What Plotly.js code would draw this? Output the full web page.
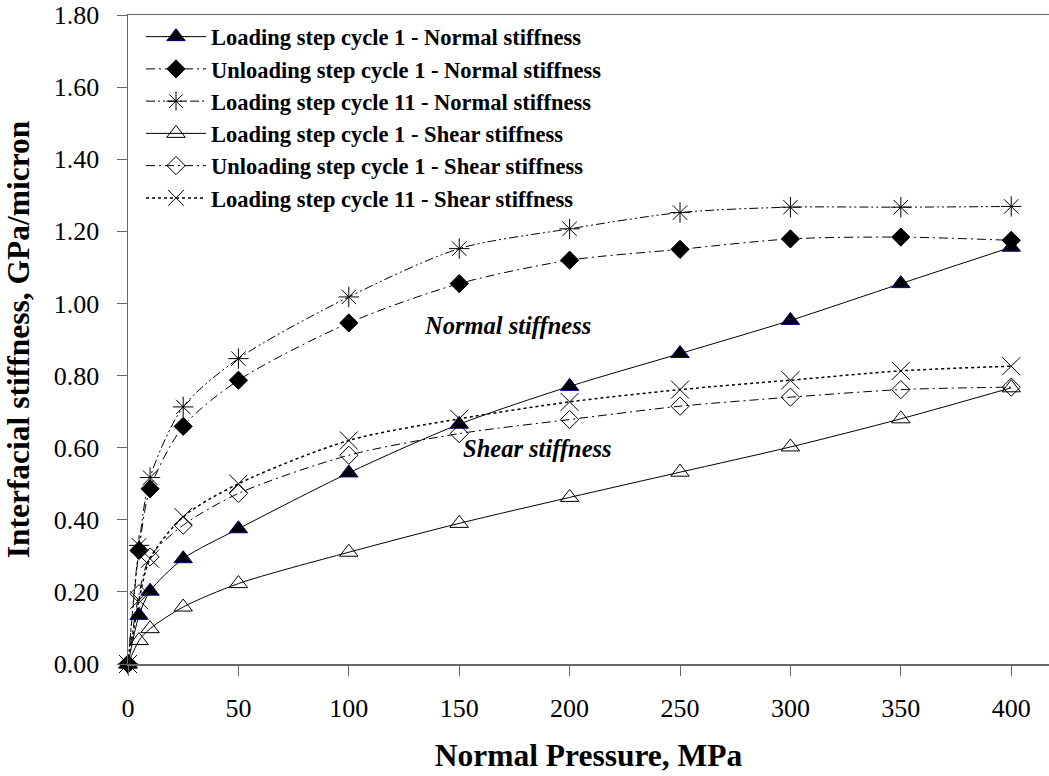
<!DOCTYPE html>
<html>
<head>
<meta charset="utf-8">
<script src="https://cdn.plot.ly/plotly-3.0.1.min.js"></script>
<style>
  html, body { margin: 0; padding: 0; background: #fff; }
  #chart { width: 1049px; height: 776px; }
</style>
</head>
<body>
<div id="chart"></div>
<script>
// Normal pressure, MPa
const pressure = [0, 5, 10, 25, 50, 100, 150, 200, 250, 300, 350, 400];

// Interfacial stiffness, GPa/micron
const loadC1Normal   = [0, 0.135, 0.202, 0.292, 0.375, 0.530, 0.665, 0.770, 0.861, 0.953, 1.055, 1.156];
const unloadC1Normal = [0, 0.315, 0.486, 0.659, 0.787, 0.946, 1.055, 1.120, 1.150, 1.179, 1.184, 1.175];
const loadC11Normal  = [0, 0.329, 0.517, 0.713, 0.847, 1.018, 1.152, 1.207, 1.252, 1.267, 1.267, 1.269];
const loadC1Shear    = [0, 0.065, 0.098, 0.158, 0.223, 0.310, 0.390, 0.462, 0.532, 0.602, 0.680, 0.766];
const unloadC1Shear  = [0, 0.195, 0.297, 0.385, 0.473, 0.579, 0.639, 0.678, 0.715, 0.740, 0.761, 0.768];
const loadC11Shear   = [0, 0.177, 0.292, 0.408, 0.500, 0.620, 0.680, 0.727, 0.761, 0.787, 0.813, 0.826];

const seriesNames = [
  'Loading step cycle 1 - Normal stiffness',
  'Unloading step cycle 1 - Normal stiffness',
  'Loading step cycle 11 - Normal stiffness',
  'Loading step cycle 1 - Shear stiffness',
  'Unloading step cycle 1 - Shear stiffness',
  'Loading step cycle 11 - Shear stiffness'
];

const FONT = '"Liberation Serif", "Times New Roman", Times, serif';

function tr(y, name, dash, width, marker) {
  return {
    x: pressure, y: y, name: name, type: 'scatter', mode: 'lines+markers',
    line: { color: '#000', width: width, dash: dash, shape: 'spline', smoothing: 0.8 },
    marker: marker, cliponaxis: false
  };
}

const traces = [
  tr(loadC1Normal, seriesNames[0], 'solid', 1,
     { symbol: 'triangle-up', size: 16, color: '#000', line: { color: '#000080', width: 1 } }),
  tr(unloadC1Normal, seriesNames[1], '9px,4px,2px,4px', 1,
     { symbol: 'diamond', size: 14, color: '#000', line: { color: '#000', width: 1 } }),
  tr(loadC11Normal, seriesNames[2], '9px,3px,2px,3px,2px,3px', 1,
     { symbol: 'asterisk-open', size: 17, color: '#000', line: { color: '#000', width: 1 } }),
  tr(loadC1Shear, seriesNames[3], 'solid', 1,
     { symbol: 'triangle-up-open', size: 16, color: '#000', line: { color: '#000', width: 1 } }),
  tr(unloadC1Shear, seriesNames[4], '9px,4px,2px,4px', 1,
     { symbol: 'diamond-open', size: 14, color: '#000', line: { color: '#000', width: 1 } }),
  tr(loadC11Shear, seriesNames[5], '3px,3px', 1.5,
     { symbol: 'x-thin-open', size: 18, color: '#000', line: { color: '#000', width: 1 } })
];

const plotTop = 15, plotBottom = 664;

const layout = {
  width: 1049, height: 776,
  paper_bgcolor: '#fff', plot_bgcolor: '#fff',
  margin: { l: 128, r: 0, t: plotTop, b: 776 - plotBottom, pad: 0, autoexpand: false },
  font: { family: FONT, color: '#000', size: 26 },
  showlegend: true,
  legend: {
    xref: 'paper', yref: 'paper',
    x: (141 - 128) / (1049 - 128), y: 1 - (15.5 - plotTop) / (plotBottom - plotTop),
    xanchor: 'left', yanchor: 'top',
    bgcolor: 'rgba(255,255,255,0)', borderwidth: 0,
    font: { family: FONT, size: 22.5, color: '#000', weight: 'bold' },
    itemwidth: 60, tracegroupgap: 0, traceorder: 'normal'
  },
  xaxis: {
    range: [0, 417.1], dtick: 50, tick0: 0,
    showgrid: false, zeroline: false,
    showline: true, linecolor: '#666', linewidth: 1.5, mirror: true,
    ticks: 'outside', ticklen: 10, tickcolor: '#666', tickwidth: 1,
    ticklabelstandoff: 10,
    tickfont: { family: FONT, size: 26, color: '#000' },
    title: { text: 'Normal Pressure, MPa', standoff: 22,
             font: { family: FONT, size: 31.5, color: '#000', weight: 'bold' } }
  },
  yaxis: {
    range: [0, 1.8], dtick: 0.2, tick0: 0, tickformat: '.2f',
    showgrid: false, zeroline: false,
    showline: true, linecolor: '#666', linewidth: 1.5,
    ticks: 'outside', ticklen: 10, tickcolor: '#666', tickwidth: 1,
    ticklabelstandoff: 12,
    tickfont: { family: FONT, size: 26, color: '#000' },
    title: { text: 'Interfacial stiffness, GPa/micron', standoff: 15,
             font: { family: FONT, size: 31.5, color: '#000', weight: 'bold' } }
  },
  annotations: [
    { x: 172, y: 0.94, xref: 'x', yref: 'y', text: '<b><i>Normal stiffness</i></b>',
      showarrow: false, font: { family: FONT, size: 24.5, color: '#000' } },
    { x: 185.5, y: 0.598, xref: 'x', yref: 'y', text: '<b><i>Shear stiffness</i></b>',
      showarrow: false, font: { family: FONT, size: 24.5, color: '#000' } }
  ]
};

Plotly.newPlot('chart', traces, layout, { displayModeBar: false, staticPlot: true });
</script>
</body>
</html>
